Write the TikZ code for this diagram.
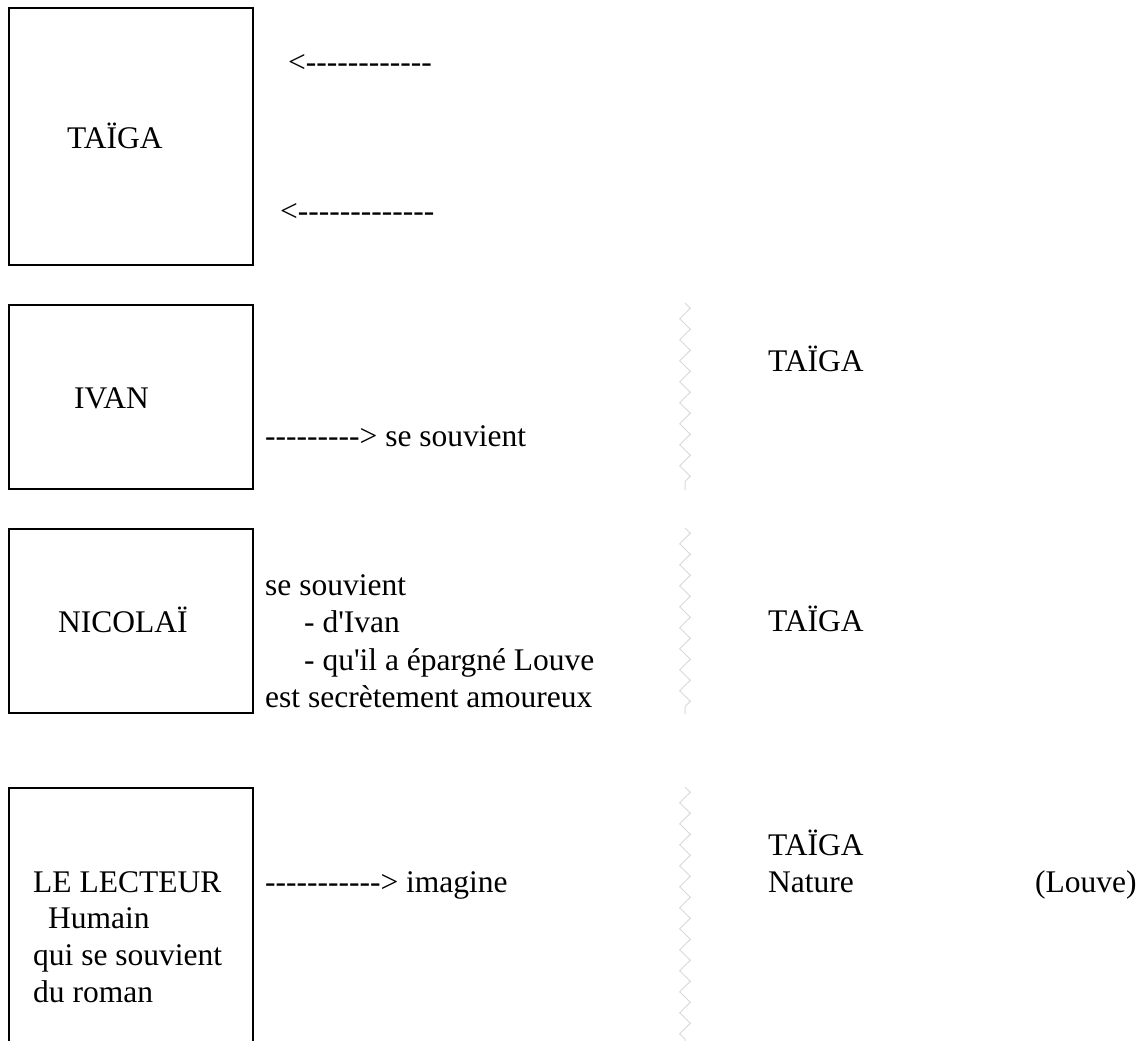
\documentclass[tikz,border=0pt]{standalone}
\usepackage{fontspec}
\setmainfont{Liberation Serif}[Ligatures=TeXOff]
\usetikzlibrary{decorations.pathmorphing}

\tikzstyle{box} = [rectangle, draw=black, line width=2pt, minimum width=244pt, inner sep=0pt]
\tikzstyle{txt} = [anchor=base west, inner sep=0pt]
\tikzstyle{zig} = [draw=black!15, line width=1pt, decorate, decoration={zigzag, segment length=21pt, amplitude=5.3pt}]

\begin{document}
\begin{tikzpicture}[x=1pt, y=-1pt, font=\fontsize{31.5pt}{37.3pt}\selectfont]
\clip [use as bounding box] (0,0) rectangle (1143,1041);

% Boxes on the left
\node (tai) [box, minimum height=257pt] at (131,136.5) {};
\node (iva) [box, minimum height=184pt] at (131,397) {};
\node (nic) [box, minimum height=184pt] at (131,621) {};
\node (lec) [box, minimum height=300pt] at (131,938) {};

% Taiga
\node (taitxt) [txt] at (67,148) {TAÏGA};
\node (back1) [txt] at (288,73) {<------------};
\node (back2) [txt] at (280,221) {<-------------};

% Ivan
\node (ivatxt) [txt] at (74,408) {IVAN};
\node (ivasv) [txt] at (265,446) {---------> se souvient};
\node (ivatai) [txt] at (768,371) {TAÏGA};

% Nicolai
\node (nictxt) [txt] at (58,632) {NICOLAÏ};
\node (nic1) [txt] at (265,595) {se souvient};
\node (nic2) [txt] at (304,632) {- d'Ivan};
\node (nic3) [txt] at (304,670) {- qu'il a épargné Louve};
\node (nic4) [txt] at (265,707) {est secrètement amoureux};
\node (nictai) [txt] at (768,631) {TAÏGA};

% Le lecteur
\node (lec1) [txt] at (33,892) {LE LECTEUR};
\node (lec2) [txt] at (48,928) {Humain};
\node (lec3) [txt] at (33,965) {qui se souvient};
\node (lec4) [txt] at (33,1002) {du roman};
\node (lecim) [txt] at (265,892) {-----------> imagine};
\node (lectai) [txt] at (768,855) {TAÏGA};
\node (lecnat) [txt] at (768,892) {Nature};
\node (lecwolf) [txt] at (1035,892) {(Louve)};

% Zigzag separators
\draw [zig] (685,303) -- (685,490);
\draw [zig] (685,528) -- (685,714);
\draw [zig] (685,787) -- (685,1041);
\end{tikzpicture}
\end{document}
